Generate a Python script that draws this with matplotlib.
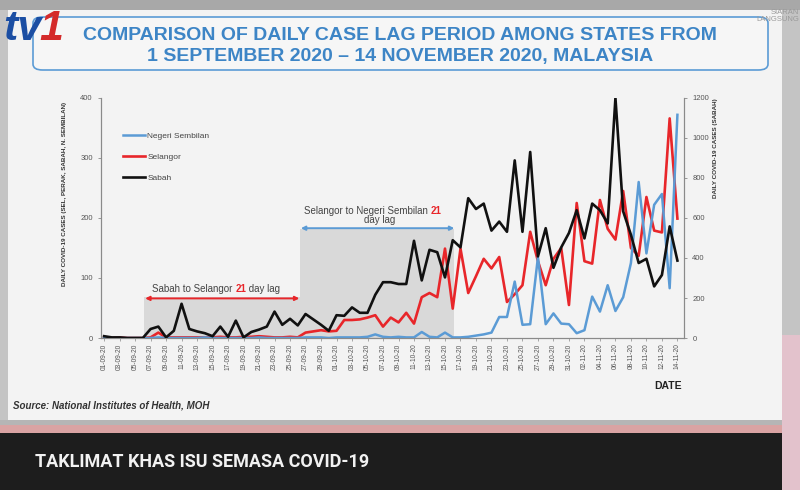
import matplotlib.pyplot as plt
from matplotlib.patches import Rectangle, FancyBboxPatch
import numpy as np
import pandas as pd

plt.rcParams['font.family'] = ['Liberation Sans', 'DejaVu Sans']

# data (01-09-20 .. 14-11-20)
dates = pd.date_range('2020-09-01', '2020-11-14', freq='D')
date_labels = [d.strftime('%d-%m-%y') for d in dates]

negeri_sembilan = [0, 0, 0, 0, 0, 0, 0, 1, 0, 0,
                   0, 0, 0, 1, 0, 0, 0, 0, 0, 0,
                   1, 0, 0, 0, 0, 0, 1, 1, 1, 0,
                   1, 1, 1, 1, 2, 6, 2, 1, 2, 1,
                   1, 10, 2, 1, 9, 1, 1, 2, 4, 6,
                   9, 35, 35, 94, 22, 23, 135, 23, 41, 24,
                   23, 8, 13, 69, 44, 88, 45, 68, 125, 260,
                   141, 222, 240, 83, 372]

selangor = [0, 0, 1, 0, 0, 0, 1, 9, 1, 1,
            1, 1, 1, 1, 1, 2, 1, 1, 2, 2,
            3, 2, 1, 1, 2, 1, 9, 11, 13, 11,
            12, 30, 30, 31, 34, 38, 19, 34, 26, 42,
            24, 68, 75, 68, 149, 49, 149, 75, 103, 132,
            116, 135, 60, 73, 88, 177, 128, 88, 132, 150,
            55, 225, 128, 124, 230, 182, 164, 245, 150, 137,
            235, 179, 176, 366, 199]

# sabah is on the right hand axis
sabah = [9, 3, 3, 0, 0, 0, 45, 57, 3, 36,
         171, 45, 33, 24, 9, 57, 6, 87, 3, 30,
         42, 57, 132, 66, 96, 63, 120, 93, 66, 36,
         114, 111, 153, 126, 126, 216, 279, 279, 270, 270,
         486, 288, 441, 429, 303, 489, 453, 699, 645, 672,
         537, 582, 531, 888, 531, 930, 408, 549, 351, 453,
         525, 639, 498, 672, 639, 573, 1200, 633, 516, 375,
         396, 258, 315, 558, 387]

left_ticks = [0, 100, 200, 300, 400]
right_ticks = [0, 200, 400, 600, 800, 1000, 1200]

W, H = 800, 490
def fx(px):
    return px / W
def fy(py):
    return 1 - py / H

fig = plt.figure(figsize=(8, 4.9), dpi=100)
fig.patch.set_facecolor('#c4c4c4')

def box(x0, y0, x1, y1, color, z=-10):
    fig.add_artist(Rectangle((fx(x0), fy(y1)), fx(x1) - fx(x0), fy(y0) - fy(y1),
                             transform=fig.transFigure, facecolor=color,
                             edgecolor='none', zorder=z))

# screen furniture
box(0, 0, 800, 10, '#a8a8a8')
box(8, 10, 782, 420, '#f3f3f3')
box(0, 420, 800, 425, '#b5b5b5')
box(0, 425, 800, 433, '#d9a3a3')
box(0, 433, 782, 490, '#1d1d1d')
box(782, 335, 800, 490, '#e3c2cc')

fig.add_artist(FancyBboxPatch((fx(33), fy(70)), fx(768) - fx(33), fy(17) - fy(70),
                              boxstyle='round,pad=0,rounding_size=0.012',
                              transform=fig.transFigure, facecolor='#f6f6f6',
                              edgecolor='#5b9bd5', lw=1.2, zorder=-5))
fig.text(0.5, fy(35), 'COMPARISON OF DAILY CASE LAG PERIOD AMONG STATES FROM',
         ha='center', va='center', fontsize=14, fontweight='bold', color='#3d85c6')
fig.text(0.5, fy(57), '1 SEPTEMBER 2020 \u2013 14 NOVEMBER 2020, MALAYSIA',
         ha='center', va='center', fontsize=14, fontweight='bold', color='#3d85c6')

fig.text(fx(3), fy(40), 'tv', fontsize=31, fontweight='bold', fontstyle='italic',
         color='#1b4ea3', va='baseline')
fig.text(fx(39), fy(40), '1', fontsize=31, fontweight='bold', fontstyle='italic',
         color='#d42a2a', va='baseline')
fig.text(fx(799), fy(16), 'SIARAN\nLANGSUNG', fontsize=5.5, color='#9a9a9a',
         ha='right', va='center', linespacing=1.1)

fig.text(fx(13), fy(405), 'Source: National Institutes of Health, MOH', fontsize=7,
         fontstyle='italic', fontweight='bold', color='#333333', va='center')
fig.text(fx(668), fy(386), 'DATE', fontsize=7.5, fontweight='bold', color='#222222',
         ha='center', va='center')
fig.text(fx(35), fy(462), 'TAKLIMAT KHAS ISU SEMASA COVID-19', fontsize=13,
         fontweight='bold', color='#f2f2f2', va='center',
         family=['Liberation Sans Narrow', 'Roboto', 'DejaVu Sans'])

# chart
x = np.arange(len(dates))
ax = fig.add_axes([fx(101), fy(338), fx(684) - fx(101), fy(98) - fy(338)])
ax.set_facecolor('none')
ax2 = ax.twinx()

ax.axvspan(5.2, 25.3, ymax=68 / 400, color='#cfcfcf', alpha=0.7, lw=0, zorder=0)
ax.axvspan(25.3, 45.2, ymax=182 / 400, color='#cfcfcf', alpha=0.7, lw=0, zorder=0)

l_ns, = ax.plot(x, negeri_sembilan, color='#5b9bd5', lw=1.8, zorder=3)
l_sel, = ax.plot(x, selangor, color='#e8262a', lw=1.9, zorder=2)
l_sab, = ax2.plot(x, sabah, color='#111111', lw=1.9, zorder=3)

ax.annotate('', xy=(5.3, 66), xytext=(25.2, 66),
            arrowprops=dict(arrowstyle='<|-|>', color='#e8262a', lw=1.4,
                            mutation_scale=6, shrinkA=0, shrinkB=0))
ax.annotate('', xy=(25.4, 183), xytext=(45.2, 183),
            arrowprops=dict(arrowstyle='<|-|>', color='#5b9bd5', lw=1.4,
                            mutation_scale=6, shrinkA=0, shrinkB=0))

t = ax.text(6.2, 82, 'Sabah to Selangor ', fontsize=7, color='#444444', va='center')
t = ax.annotate('21', xy=(1, 0), xycoords=t, va='bottom', fontsize=7,
                color='#e8262a', fontweight='bold')
ax.annotate(' day lag', xy=(1, 0), xycoords=t, va='bottom', fontsize=7, color='#444444')

t = ax.text(25.8, 212, 'Selangor to Negeri Sembilan ', fontsize=7, color='#444444',
            va='center')
ax.annotate('21', xy=(1, 0), xycoords=t, va='bottom', fontsize=7,
            color='#e8262a', fontweight='bold')
ax.text(35.6, 197, 'day lag', fontsize=7, color='#444444', ha='center', va='center')

ax.set_xlim(-0.4, 74.85)
ax.set_ylim(0, 400)
ax2.set_ylim(0, 1200)
ax.set_yticks(left_ticks)
ax2.set_yticks(right_ticks)
ax.set_xticks(x[::2])
ax.set_xticklabels(date_labels[::2], rotation=90, fontsize=4.8, color='#555555')
ax.tick_params(axis='y', labelsize=5.5, labelcolor='#555555', length=2.5,
               width=0.6, color='#888888')
ax.tick_params(axis='x', length=2, width=0.5, color='#888888', pad=2)
ax2.tick_params(axis='y', labelsize=5.5, labelcolor='#555555', length=2.5,
                width=0.6, color='#888888')

for a in (ax, ax2):
    a.spines['top'].set_visible(False)
    for s in ('left', 'right', 'bottom'):
        a.spines[s].set_color('#8a8a8a')
        a.spines[s].set_linewidth(0.8)

ax.set_ylabel('DAILY COVID-19 CASES (SEL, PERAK, SABAH, N. SEMBILAN)', fontsize=4.5,
              fontweight='bold', color='#333333')
ax.yaxis.set_label_coords(-0.058, 0.60)
ax2.set_ylabel('DAILY COVID-19 CASES (SABAH)', fontsize=4.5, fontweight='bold',
               color='#333333')
ax2.yaxis.set_label_coords(1.05, 0.79)

ax2.legend([l_ns, l_sel, l_sab], ['Negeri Sembilan', 'Selangor', 'Sabah'],
           loc='upper left', bbox_to_anchor=(0.025, 0.89), frameon=False,
           fontsize=6, handlelength=2.6, handletextpad=0.3, labelspacing=1.6,
           labelcolor='#444444')

fig.savefig('out.png', dpi=100)
